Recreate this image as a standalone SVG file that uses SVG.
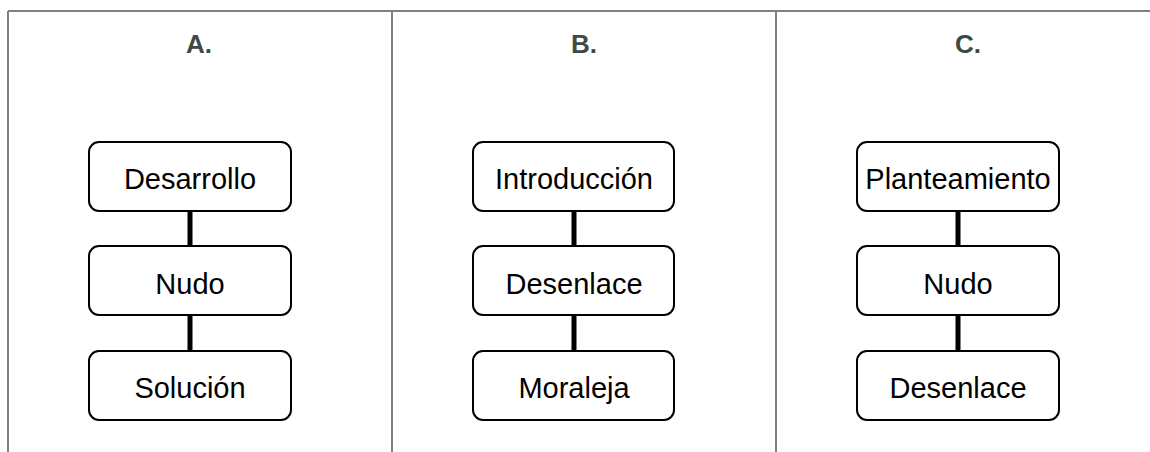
<svg xmlns="http://www.w3.org/2000/svg" width="1150" height="452" viewBox="0 0 1150 452">
<style>
.frame{stroke:#808080;stroke-width:2;fill:none}
.box{fill:#fff;stroke:#000;stroke-width:2}
.lbl{font-family:"Liberation Sans",Arial,sans-serif;font-size:29px;fill:#000;text-anchor:middle}
.ttl{font-family:"Liberation Sans",Arial,sans-serif;font-size:26px;font-weight:bold;fill:#3d4a45;text-anchor:middle}
.con{stroke:#000;stroke-width:5}
</style>
<rect width="1150" height="452" fill="#fff"/>
<g id="frame">
<line class="frame" x1="8" y1="11" x2="1150" y2="11"/>
<line class="frame" x1="8" y1="11" x2="8" y2="452"/>
<line class="frame" x1="392" y1="11" x2="392" y2="452"/>
<line class="frame" x1="776" y1="11" x2="776" y2="452"/>
</g>
<g id="titles">
<text class="ttl" x="199" y="53">A.</text>
<text class="ttl" x="584" y="53">B.</text>
<text class="ttl" x="968" y="53">C.</text>
</g>
<g id="connectors">
<line class="con" x1="190" y1="211" x2="190" y2="246"/>
<line class="con" x1="190" y1="315" x2="190" y2="351"/>
<line class="con" x1="574" y1="211" x2="574" y2="246"/>
<line class="con" x1="574" y1="315" x2="574" y2="351"/>
<line class="con" x1="958" y1="211" x2="958" y2="246"/>
<line class="con" x1="958" y1="315" x2="958" y2="351"/>
</g>
<g id="a1"><rect class="box" x="89" y="142" width="202" height="69" rx="10"/><text class="lbl" x="190" y="189">Desarrollo</text></g>
<g id="a2"><rect class="box" x="89" y="246" width="202" height="69" rx="10"/><text class="lbl" x="190" y="294">Nudo</text></g>
<g id="a3"><rect class="box" x="89" y="351" width="202" height="69" rx="10"/><text class="lbl" x="190" y="398">Solución</text></g>
<g id="b1"><rect class="box" x="473" y="142" width="201" height="69" rx="10"/><text class="lbl" x="574" y="189">Introducción</text></g>
<g id="b2"><rect class="box" x="473" y="246" width="201" height="69" rx="10"/><text class="lbl" x="574" y="294">Desenlace</text></g>
<g id="b3"><rect class="box" x="473" y="351" width="201" height="69" rx="10"/><text class="lbl" x="574" y="398">Moraleja</text></g>
<g id="c1"><rect class="box" x="857" y="142" width="202" height="69" rx="10"/><text class="lbl" x="958" y="189">Planteamiento</text></g>
<g id="c2"><rect class="box" x="857" y="246" width="202" height="69" rx="10"/><text class="lbl" x="958" y="294">Nudo</text></g>
<g id="c3"><rect class="box" x="857" y="351" width="202" height="69" rx="10"/><text class="lbl" x="958" y="398">Desenlace</text></g>
</svg>
